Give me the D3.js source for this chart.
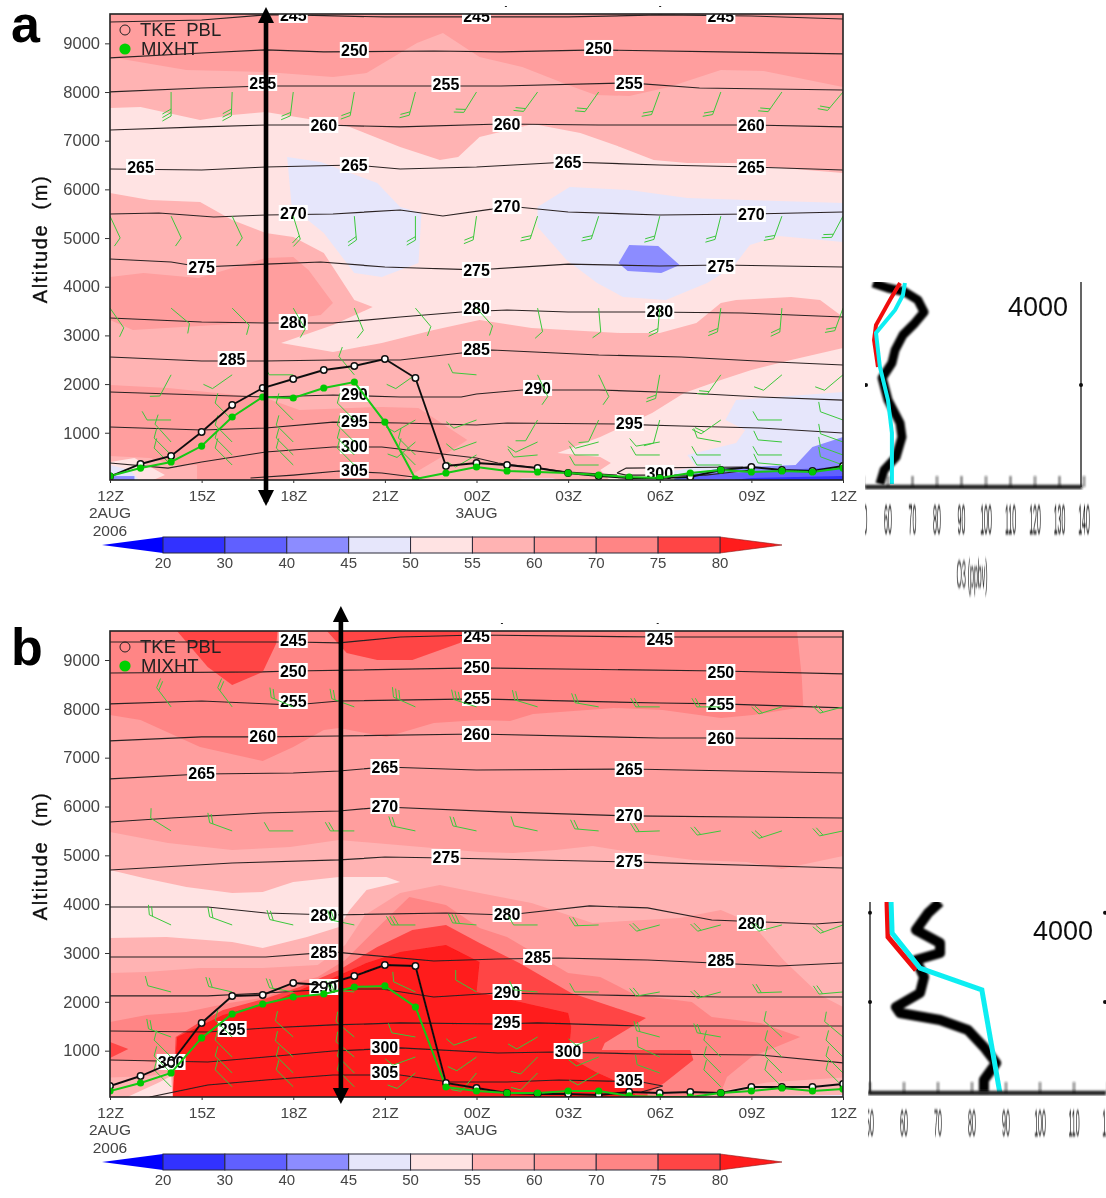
<!DOCTYPE html>
<html><head><meta charset="utf-8">
<script src="https://cdn.jsdelivr.net/npm/d3@7/dist/d3.min.js"></script>
<style>html,body{margin:0;background:#fff}svg{display:block}text{font-family:"Liberation Sans",Arial,sans-serif}</style>
</head><body><svg id="c" width="1106" height="1198"></svg>
<script>
// ---------- shared values ----------
const hours=d3.range(0,25);
const hourTicks=[0,3,6,9,12,15,18,21,24];
const hourLabels=["12Z","15Z","18Z","21Z","00Z","03Z","06Z","09Z","12Z"];
const altTicks=[1000,2000,3000,4000,5000,6000,7000,8000,9000];
const levelLabels=[20,30,40,45,50,55,60,70,75,80];
const levelColors=["#0000ff","#3030ff","#6060ff","#8c8cff","#e6e6fb","#ffe3e3","#ffb3b3","#ff9e9e","#ff8585","#ff4545","#ff1a1a"];
const barbHours=[0,2,4,6,8,10,12,14,16,18,20,22,24];
// colour index names
const C={b20:0,b30:1,b40:2,b45:3,b50:4,b55:5,b60:6,b70:7,b75:8,b80:9,b99:10};

// ---------- panel a ----------
const tkeA=[100,358,522,1015,1570,1919,2104,2289,2371,2515,2124,316,378,337,275,173,111,70,70,90,234,296,234,214,316];
const mixA=[111,275,399,727,1323,1734,1714,1919,2042,1220,50,173,296,214,193,173,131,90,70,173,234,193,214,193,275];
const bandsA=[
 [C.b70,[[0,9700],[24,9700],[24,8103],[21.4,8432],[20,8453],[18.3,8103],[17,7919],[15.9,7939],[15,8144],[13.5,8514],[12.1,8720],[10.9,9213],[10.05,9008],[8.4,8391],[7.3,8309],[5.1,8412],[2.5,8453],[0,8720]]],
 [C.b70,[[0,4200],[1.1,4282],[2.9,4179],[5.1,4590],[6,4610],[6.5,4343],[7.3,3665],[6.9,3419],[5.1,3275],[2.9,3193],[0.75,3110],[0,3316]]],
 [C.b70,[[0,1980],[1.9,1919],[5.1,1713],[6.2,1467],[7.9,1508],[8.9,1529],[10.1,1508],[11.7,850],[10.8,480],[9.5,0],[0,0]]],
 [C.b55,[[0,7672],[1,7692],[2.95,7425],[4,7528],[5.1,7590],[7.3,7364],[7.85,7282],[9.5,6871],[10.8,6604],[11.4,6665],[12.1,7076],[13.85,7343],[15.4,7158],[16.7,6871],[17.8,6604],[18.9,6542],[20.6,6542],[21.6,6460],[24,6336],[24,3378],[23.25,3727],[22.3,3789],[20.5,3727],[20,3665],[19.2,3254],[18,3049],[16.7,3049],[13.8,3152],[12.1,3316],[10.6,3110],[8.9,2843],[7.3,2659],[5.6,2843],[7.3,3213],[8.6,3583],[8,3727],[7,4693],[6,5021],[5.1,5104],[4,5371],[2.95,5741],[1.3,5782],[0,5925]]],
 [C.b50,[[5.8,6665],[6.9,6562],[7.6,6398],[8.75,6131],[9.5,5638],[10.2,5515],[10.1,4487],[8.9,4199],[8,4282],[7,5104],[5.95,5638]]],
 [C.b50,[[14,5638],[15.05,6049],[17,5987],[18.9,5823],[20.85,5782],[24,5720],[24,4919],[21.9,5042],[20.95,4857],[20.4,4405],[19.55,4076],[18.2,3727],[16.8,3789],[15.95,4076],[14.95,4549],[14,5227]]],
 [C.b45,[[17,4857],[17.95,4836],[18.65,4446],[18.05,4282],[16.95,4323],[16.65,4487]]],
 [C.b55,[[24,2741],[22.3,2494],[21,2289],[20,2083],[18.8,1816],[17.75,1405],[16.05,912],[14.65,583],[16.05,501],[16.4,378],[16.05,234],[16.4,0],[24,0]]],
 [C.b50,[[24,1837],[20.5,1672],[20.15,1261],[20.8,1056],[20.5,789],[18.9,542],[19.2,296],[17.7,131],[17,0],[24,0]]],
 [C.b45,[[24,912],[23,706],[22.45,336],[20,275],[18.9,131],[19,0],[24,0]]],
 [C.b40,[[18,0],[19,120],[21,200],[24,300],[24,0]]],
 [C.b30,[[20,0],[21,70],[24,110],[24,0]]],
 [C.b60,[[0,520],[1.3,480],[2.1,336],[2.85,336],[2.85,0],[0,0]]],
 [C.b55,[[0,400],[0.8,480],[1.8,130],[1.3,0],[0,0]]],
 [C.b50,[[0,336],[0.65,234],[1,0],[0,0]]],
 [C.b50,[[13,0],[13.5,60],[14.5,60],[15,0]]],
 [C.b45,[[0,110],[0.8,110],[0.8,0],[0,0]]]
];
const isoA=[
 [[0,9439],[3,9480],[5.1,9583],[6,9583],[9,9542],[12,9542],[15,9542],[18,9583],[21,9562],[24,9500]],
 [[0,8702],[3,8802],[5.1,8864],[7,8823],[10.6,8843],[12.8,8823],[16,8864],[20,8823],[24,8782]],
 [[0,8001],[3,8083],[5.1,8124],[8,8124],[12.8,8124],[17,8186],[19.3,8083],[24,8042]],
 [[0,7220],[3,7282],[5.1,7323],[7,7323],[9.5,7282],[12.8,7343],[16,7323],[21,7323],[24,7282]],
 [[0,6419],[3,6398],[5.1,6460],[8,6501],[9.5,6419],[12,6460],[15,6562],[18,6501],[21,6460],[24,6398]],
 [[0,5494],[1.6,5515],[3.4,5432],[5.1,5473],[7.3,5494],[9.5,5576],[10.9,5453],[12.5,5596],[13,5658],[15,5535],[18,5473],[21,5494],[24,5535]],
 [[0,4569],[2,4508],[3,4405],[5.1,4466],[6.9,4508],[9,4405],[12,4344],[15,4466],[18,4426],[20,4446],[24,4405]],
 [[0,3357],[3,3275],[5.1,3255],[7.3,3255],[9.5,3378],[11.5,3481],[13,3522],[15,3481],[17.7,3481],[20.7,3460],[24,3378]],
 [[0,2556],[3,2474],[5.1,2474],[7.3,2494],[9.5,2494],[11.5,2638],[12.5,2700],[16,2597],[18.7,2556],[21.8,2453],[24,2392]],
 [[0,1837],[3,1775],[5.1,1734],[7.3,1775],[9.5,1734],[11.5,1734],[12,1796],[13.5,1878],[16,1878],[18.9,1816],[21.3,1734],[24,1672]],
 [[0,1118],[3,1056],[5.1,1097],[7.3,1220],[9.5,1200],[12,1159],[13,1200],[16.6,1179],[18.7,1138],[21.3,1097],[24,995]],
 [[0,378],[1.9,275],[3,399],[5.1,604],[7.3,707],[8.9,707],[10.6,584],[12,481],[12.7,378],[14,275],[15,193],[16.6,131]],
 [[16.6,172],[16.9,275],[20.7,296],[21,234],[19.5,131],[16.9,131],[16.6,172]],
 [[4.6,70],[6,131],[7.5,214],[8.9,173],[10.2,70]]
];
const isoLabelsA=[[245,6,9583],[245,12,9562],[245,20,9562],[250,8,8864],[250,16,8905],[255,5,8186],[255,11,8165],[255,17,8186],[260,7,7323],[260,13,7343],[260,21,7323],[265,1,6460],[265,8,6501],[265,15,6562],[265,21,6460],[270,6,5515],[270,13,5658],[270,21,5494],[275,3,4405],[275,12,4344],[275,20,4426],[280,6,3275],[280,12,3563],[280,18,3501],[285,4,2515],[285,12,2720],[290,8,1796],[290,14,1919],[295,8,1241],[295,17,1200],[300,8,727],[300,18,173],[305,8,234]];
const barbRowsA=[
 [8000,[95,90,92,97,100,105,122,126,125,110,110,125,130],[3,3,3,2,2,2,2,2,2,2,2,2,2]],
 [5450,[65,65,65,73,85,90,98,108,108,104,104,110,118],[1,1,1,2,2,2,2,2,2,2,2,2,2]],
 [3560,[55,40,45,60,68,50,48,78,85,95,98,95,110],[1,1,1,1,1,1,1,1,1,2,2,2,2]],
 [2190,[null,118,145,180,230,145,185,65,65,100,125,140,140],[0,1,1,1,1,1,1,1,1,2,2,1,1]],
 [1262,[null,180,225,225,225,150,160,120,115,105,145,180,200],[0,1,1,1,1,1,1,1,1,1,2,1,1]],
 [810,[null,228,225,225,225,140,160,155,165,170,190,185,200],[0,1,1,1,1,1,1,1,1,1,1,1,1]],
 [543,[null,225,225,225,225,225,150,175,180,180,180,180,200],[0,1,1,1,1,1,1,1,1,1,1,1,1]],
 [337,[null,225,225,225,225,225,null,null,180,null,180,185,200],[0,1,1,1,1,1,0,0,1,0,1,1,1]]
];
const arrowHourA=5.108;

// ---------- panel b ----------
const tkeB=[276,481,747,1567,2120,2140,2386,2345,2529,2754,2734,338,235,133,113,113,92,154,133,154,133,256,256,256,317];
const mixB=[174,338,543,1260,1751,1956,2099,2161,2304,2325,1894,256,174,133,133,174,174,72,51,51,133,174,235,174,215];
const bandsB=[
 [C.b70,[[0,9700],[24,9700],[24,4987],[22,4721],[20.85,4864],[19.1,4905],[17.25,5048],[15.8,5192],[14.6,5110],[13.2,5048],[12.1,5069],[7.5,5314],[5.9,5171],[4,5110],[1.9,5253],[0,5479]]],
 [C.b75,[[0,7875],[1,7772],[2.95,7219],[5,6933],[6,7219],[7,7567],[7.5,7608],[9.05,7424],[10.6,7711],[12.1,7772],[13.1,7752],[13.85,7895],[16.5,8018],[18.1,7977],[20,7813],[21.05,7875],[22.7,8038],[22.65,8650],[22.5,9554],[22.5,9700],[0,9700]]],
 [C.b80,[[2.05,9700],[3.2,8857],[4,8488],[5,8755],[5.45,9349],[5.5,9700]]],
 [C.b80,[[6.95,9700],[7.75,9144],[8.75,9000],[9.9,9000],[11.45,9349],[11.9,9574],[11.9,9700]]],
 [C.b55,[[0,4700],[1.1,4537],[2.5,4352],[4,4229],[5,4250],[6,4455],[7.5,4557],[9.05,4557],[9.5,4455],[8.4,4291],[7.85,3881],[7.5,3533],[6.45,3328],[5,3103],[4,3226],[1.85,3328],[0,3307]]],
 [C.b70,[[0,2591],[1.2,2611],[2.95,2693],[5,2693],[6.8,2755],[7.7,3164],[8.35,3779],[9.5,4229],[10.8,4393],[12.1,4229],[13.8,4024],[15.8,3615],[18.65,3717],[20,3881],[21,3615],[22.05,2857],[23.25,2140],[24,1894],[24,0],[0,0]]],
 [C.b75,[[0,1588],[1.2,1731],[2.5,1792],[3.9,1976],[5.15,2099],[6,2386],[6.8,2509],[7.7,2857],[8.85,3574],[9.8,4147],[11,3984],[12.1,3512],[13,3328],[15,2591],[16.05,2509],[17.2,2140],[19.05,1997],[19.7,1690],[21.3,1567],[22.6,1280],[21,870],[20.2,461],[20,133],[20,0],[0,0]]],
 [C.b80,[[0,1178],[0.6,1034],[0,850]]],
 [C.b80,[[2.05,0],[2.15,1280],[2.95,1588],[3.7,1833],[5.15,2079],[6.2,2304],[7.5,2652],[8.75,3123],[9.9,3472],[11,3574],[12.1,3205],[13.4,2795],[15.1,2181],[17.55,1669],[16.2,1157],[16.1,1014],[19,1014],[19.1,809],[18.15,338],[17.6,133],[17.6,0]]],
 [C.b99,[[2.05,0],[2.2,1280],[3.7,1731],[5.45,2038],[6.45,2304],[7.3,2488],[8.4,2795],[9.5,3021],[11,3164],[12.1,2816],[12,2201],[15,1772],[15.1,1485],[15.05,1157],[15.2,809],[15.9,563],[16.85,297],[17.35,0]]],
 [C.b70,[[0,800],[1,800],[2.05,700],[2.05,0],[0,0]]],
 [C.b60,[[0,450],[1.3,480],[2.05,560],[2.05,0],[0,0]]],
 [C.b55,[[0.6,60],[1.6,350],[2,480],[2.05,0],[0.6,0]]],
 [C.b60,[[19,60],[21.5,350],[24,450],[24,0],[18.5,0]]],
 [C.b50,[[19,40],[20.5,60],[24,90],[24,0],[18.5,0]]],
 [C.b45,[[20,25],[24,25],[24,0],[19,0]]]
];
const isoB=[
 [[0,9369],[6,9369],[7.5,9349],[9.5,9471],[12,9512],[18,9471],[24,9471]],
 [[0,8734],[5,8755],[6,8775],[12,8837],[20,8775],[24,8714]],
 [[0,8100],[3,8161],[6,8079],[7.5,8161],[12,8202],[18,8120],[20,8100],[24,8018]],
 [[0,7342],[3,7424],[5,7424],[7.5,7444],[12,7485],[18,7403],[20,7403],[24,7383]],
 [[0,6564],[3,6666],[6,6686],[7.5,6727],[9,6809],[12,6747],[17,6768],[24,6686]],
 [[0,5683],[2,5765],[5,5867],[7.5,5908],[9,5990],[12.8,5888],[17,5806],[24,5765]],
 [[0,4700],[4,4843],[7.5,4905],[9,4966],[11,4945],[17,4864],[24,4741]],
 [[0,3942],[3.2,3942],[5.1,3819],[7.3,3778],[11,3819],[13,3778],[13.6,3819],[15.7,3963],[17.6,3922],[19.7,3676],[23.1,3594],[24,3635]],
 [[0,2918],[3.2,2918],[5.1,2918],[7.3,3021],[10.6,2836],[12.7,2877],[14.7,2898],[17.6,2857],[21.9,2734],[24,2795]],
 [[0,2120],[3.2,2120],[5.1,2181],[7.3,2263],[8.9,2263],[10.6,2099],[12.7,2181],[16,2140],[20,2099],[24,2099]],
 [[0,1403],[3.2,1382],[5.1,1464],[7.3,1526],[9.5,1567],[12.7,1546],[14,1567],[17.4,1505],[24,1505]],
 [[0,809],[3.2,768],[5.1,870],[7.3,993],[9.5,1055],[12.7,952],[14.5,973],[17.4,932],[21.3,911],[24,748]],
 [[1.3,51],[3.2,297],[5.1,399],[7.3,502],[9.5,502],[11.1,358],[13,358],[14.7,399],[17.4,358],[18.1,276],[17.4,154]]
];
const isoLabelsB=[[245,6,9410],[245,12,9492],[245,18,9431],[250,6,8775],[250,12,8857],[250,20,8755],[255,6,8161],[255,12,8222],[255,20,8100],[260,5,7444],[260,12,7485],[260,20,7403],[265,3,6686],[265,9,6809],[265,17,6768],[270,9,6011],[270,17,5826],[275,11,4966],[275,17,4884],[280,7,3778],[280,13,3799],[280,21,3615],[285,7,3021],[285,14,2918],[285,20,2857],[290,7,2304],[290,13,2201],[295,4,1444],[295,13,1587],[300,2,768],[300,9,1075],[300,15,993],[305,9,563],[305,17,399]];
const barbRowsB=[
 [8040,[null,233,233,203,200,204,198,197,190,180,180,163,165],[0,2,2,2,2,3,3,2,2,2,2,2,2]],
 [5500,[null,212,200,180,180,192,192,192,185,178,170,162,168],[0,1,2,1,2,2,2,1,2,2,2,2,2]],
 [3574,[null,205,200,193,192,180,185,180,178,165,165,165,160],[0,2,2,2,2,3,3,1,2,2,2,2,2]],
 [2202,[null,195,193,190,185,205,210,185,180,170,165,178,175],[0,1,2,2,2,1,1,1,1,2,2,2,2]],
 [1280,[null,200,225,222,220,190,160,150,160,195,190,222,220],[0,2,1,1,1,1,1,1,1,2,2,1,1]],
 [870,[null,225,225,222,220,160,145,135,158,205,225,225,225],[0,1,1,1,1,1,1,1,1,1,1,1,1]],
 [543,[null,225,225,225,225,140,130,135,150,200,225,225,225],[0,1,1,1,1,1,1,1,1,1,1,1,1]],
 [260,[null,225,225,225,225,null,null,null,null,null,225,225,225],[0,1,1,1,1,0,0,0,0,0,1,1,1]]
];
const arrowHourB=7.56;

// ---------- O3 profile insets ----------
const o3TicksA=[50,60,70,80,90,100,110,120,130,140];
const o3TicksB=[50,60,70,80,90,100,110,120];
const o3BlackA=[[53.9,4000],[60,3902],[66.9,3824],[72.2,3667],[74.7,3431],[71,3216],[66.1,2980],[62.9,2686],[61.6,2431],[57.6,2137],[60,1706],[64.9,1255],[65.7,980],[63.3,588],[58.4,333],[56.7,60]];
const o3RedA=[[64.9,4000],[60.8,3667],[55.1,3176],[54.3,2882],[55.9,2353]];
const o3CyanA=[[66.9,4000],[66.1,3765],[62.9,3471],[55.1,3020],[56.7,2353],[60,1706],[61.6,1059],[61.6,60]];
const o3BlackB=[[70.6,4198],[67.1,3956],[63.5,3582],[70.6,3297],[70.6,3077],[63.5,2923],[65.9,2549],[64.7,2198],[57.6,1890],[58.8,1758],[70.6,1604],[78.8,1385],[83.5,1011],[87.1,659],[83.5,286],[83.5,0]];
const o3RedB=[[55,4198],[55.3,3429],[63.5,2703]];
const o3CyanB=[[56.2,4198],[56.5,3516],[64.7,2747],[82.9,2264],[88.2,0]];

// ---------- drawing ----------
const svg=d3.select("#c");
const defs=svg.append("defs");
[["soft",0.35],["blur",0.8],["blurT",0.55]].forEach(([id,s])=>defs.append("filter").attr("id",id).attr("x","-20%").attr("y","-20%").attr("width","140%").attr("height","140%").append("feGaussianBlur").attr("stdDeviation",s));
const root=svg.append("g").attr("filter","url(#soft)");
const tc="#444";

function barb(g,px,py,ang,n){
  const a=ang*Math.PI/180,L=24,F=10,fa=a+Math.PI/3;
  const ex=px+L*Math.cos(a),ey=py+L*Math.sin(a);
  let d=`M${px},${py}L${ex},${ey}`;
  for(let i=0;i<n;i++){const sx=ex-i*3.5*Math.cos(a),sy=ey-i*3.5*Math.sin(a);
    d+=`M${sx},${sy}L${sx+F*Math.cos(fa)},${sy+F*Math.sin(fa)}`;}
  g.append("path").attr("d",d).attr("fill","none").attr("stroke","#3cc83c").attr("stroke-width",1);
}

function panel(o){
  const x=d3.scaleLinear().domain([0,24]).range([110,843]);
  const y=d3.scaleLinear().domain(o.altDomain).range([o.bottom,o.top]);
  const g=root.append("g");
  const clipId="clip"+o.id;
  defs.append("clipPath").attr("id",clipId).append("rect").attr("x",110).attr("y",o.top).attr("width",733).attr("height",o.bottom-o.top);
  const p=g.append("g").attr("clip-path",`url(#${clipId})`);
  p.append("rect").attr("x",110).attr("y",o.top).attr("width",733).attr("height",o.bottom-o.top).attr("fill",levelColors[C.b60]);
  const area=d3.line().x(d=>x(d[0])).y(d=>y(d[1]));
  p.selectAll("path.band").data(o.bands).join("path").attr("class","band")
    .attr("d",d=>area(d[1])+"Z").attr("fill",d=>levelColors[d[0]]);
  p.selectAll("path.iso").data(o.iso).join("path").attr("class","iso")
    .attr("d",d=>area(d)).attr("fill","none").attr("stroke","#2b2222").attr("stroke-width",1.2);
  const lab=p.selectAll("g.l").data(o.isoLabels).join("g").attr("class","l")
    .attr("transform",d=>`translate(${x(d[1])},${y(d[2])})`);
  lab.append("rect").attr("x",-14.5).attr("y",-8).attr("width",29).attr("height",16).attr("fill","#fff");
  lab.append("text").attr("text-anchor","middle").attr("y",5.8).attr("font-size",16).attr("font-weight",700).attr("fill","#000").text(d=>d[0]);
  const bg=p.append("g");
  o.barbs.forEach(([alt,angs,ns])=>angs.forEach((a,i)=>{if(a!==null)barb(bg,x(barbHours[i]),y(alt),a,ns[i]);}));
  const ln=d3.line().x((d,i)=>x(hours[i])).y(d=>y(d));
  p.append("path").attr("d",ln(o.tke)).attr("fill","none").attr("stroke","#111").attr("stroke-width",1.9);
  p.append("path").attr("d",ln(o.mix)).attr("fill","none").attr("stroke","#14c814").attr("stroke-width",2);
  p.selectAll("circle.t").data(o.tke).join("circle").attr("class","t").attr("cx",(d,i)=>x(hours[i])).attr("cy",d=>y(d)).attr("r",3.2).attr("fill","#fff").attr("stroke","#111").attr("stroke-width",1.5);
  p.selectAll("circle.m").data(o.mix).join("circle").attr("class","m").attr("cx",(d,i)=>x(hours[i])).attr("cy",d=>y(d)).attr("r",3.6).attr("fill","#06c806");
  g.append("rect").attr("x",110).attr("y",o.top).attr("width",733).attr("height",o.bottom-o.top).attr("fill","none").attr("stroke","#222").attr("stroke-width",1.6);
  // axes
  const ya=g.append("g").attr("transform","translate(110,0)").call(d3.axisLeft(y).tickValues(altTicks).tickSize(5).tickPadding(5).tickFormat(d3.format("d")));
  ya.select(".domain").remove();
  ya.selectAll("line").attr("stroke","#333");
  ya.selectAll("text").attr("font-size",16.5).attr("fill",tc).attr("font-family","Liberation Sans");
  const xa=g.append("g").attr("transform",`translate(0,${o.bottom})`).call(d3.axisBottom(x).tickValues(hourTicks).tickSize(3).tickPadding(7).tickFormat((d,i)=>hourLabels[i]));
  xa.select(".domain").remove();
  xa.selectAll("line").attr("stroke","#333");
  xa.selectAll("text").attr("font-size",15.5).attr("fill",tc).attr("font-family","Liberation Sans");
  const dl=(t,h,dy)=>g.append("text").attr("x",x(h)).attr("y",o.bottom+dy).attr("text-anchor","middle").attr("font-size",15.5).attr("fill",tc).text(t);
  dl("2AUG",0,38);dl("2006",0,56);dl("3AUG",12,38);
  // title
  g.append("text").attr("transform",`translate(47,${o.top+225}) rotate(-90)`).attr("text-anchor","middle").attr("font-size",20).attr("letter-spacing",1.6).attr("fill","#111").attr("stroke","#111").attr("stroke-width",0.35).style("white-space","pre").text("Altitude  (m)");
  // legend
  g.append("circle").attr("cx",125).attr("cy",o.top+16).attr("r",5).attr("fill","none").attr("stroke","#222").attr("stroke-width",1);
  g.append("text").attr("x",140).attr("y",o.top+22).attr("font-size",18.5).attr("fill","#222").style("white-space","pre").text("TKE  PBL");
  g.append("circle").attr("cx",125).attr("cy",o.top+35).attr("r",5.6).attr("fill","#00d000");
  g.append("text").attr("x",141).attr("y",o.top+41).attr("font-size",18.5).attr("fill","#222").text("MIXHT");
  // top ticks
  o.dots.forEach(h=>g.append("rect").attr("x",x(h)).attr("y",o.top-8).attr("width",2).attr("height",1).attr("fill","#222"));
  // panel letter
  g.append("text").attr("x",11).attr("y",o.letterY).attr("font-size",52).attr("font-weight",700).attr("fill","#000").text(o.id);
  // arrow
  const ax=x(o.arrowHour);
  g.append("line").attr("x1",ax).attr("x2",ax).attr("y1",o.arrowTop+6).attr("y2",o.arrowBottom-4).attr("stroke","#000").attr("stroke-width",4.6);
  g.append("path").attr("d",`M${ax},${o.arrowTop}l8,16h-16Z`).attr("fill","#000");
  g.append("path").attr("d",`M${ax},${o.arrowBottom}l8,-16h-16Z`).attr("fill","#000");
  // colour bar
  const cb=d3.scalePoint().domain(levelLabels).range([163,720]);
  const b0=o.bottom+57,b1=o.bottom+73,bm=(b0+b1)/2;
  g.append("path").attr("d",`M102,${bm}L${cb(20)},${b0}V${b1}Z`).attr("fill",levelColors[0]);
  g.append("path").attr("d",`M782,${bm}L${cb(80)},${b0}V${b1}Z`).attr("fill",levelColors[10]).attr("stroke","#8a2020").attr("stroke-width",0.6);
  levelLabels.slice(0,-1).forEach((l,i)=>{
    g.append("rect").attr("x",cb(l)).attr("y",b0).attr("width",cb(levelLabels[i+1])-cb(l)).attr("height",b1-b0)
      .attr("fill",levelColors[i+1]).attr("stroke","#2a2a3a").attr("stroke-width",1);
  });
  levelLabels.forEach(l=>g.append("text").attr("x",cb(l)).attr("y",b1+15).attr("text-anchor","middle").attr("font-size",15).attr("fill",tc).text(l));
}

panel({id:"a",top:14,bottom:480,altDomain:[29,9603],bands:bandsA,iso:isoA,isoLabels:isoLabelsA,barbs:barbRowsA,tke:tkeA,mix:mixA,arrowHour:arrowHourA,arrowTop:7,arrowBottom:506,dots:[12.93,17.98],letterY:42});
panel({id:"b",top:631,bottom:1097,altDomain:[51,9594],bands:bandsB,iso:isoB,isoLabels:isoLabelsB,barbs:barbRowsB,tke:tkeB,mix:mixB,arrowHour:arrowHourB,arrowTop:606,arrowBottom:1104,dots:[12.8,17.9],letterY:665});

function inset(o){
  const x=d3.scaleLinear().domain(o.xDomain).range(o.xRange);
  const y=d3.scaleLinear().domain([0,4000]).range(o.yRange);
  const id="ic"+o.id;
  defs.append("clipPath").attr("id",id).append("rect").attr("x",o.clipX).attr("y",o.clipTop).attr("width",1106-o.clipX).attr("height",o.clipBottom-o.clipTop);
  const g=root.append("g").attr("clip-path",`url(#${id})`);
  const ln=d3.line().x(d=>x(d[0])).y(d=>y(d[1]));
  g.append("path").attr("d",ln(o.black)).attr("fill","none").attr("stroke","#000").attr("stroke-width",o.blackW).attr("stroke-linejoin","round").attr("filter","url(#blur)");
  g.append("path").attr("d",ln(o.red)).attr("fill","none").attr("stroke","#f01010").attr("stroke-width",o.lineW).attr("filter","url(#blurT)");
  g.append("path").attr("d",ln(o.cyan)).attr("fill","none").attr("stroke","#10eef2").attr("stroke-width",o.lineW).attr("filter","url(#blurT)");
  // axes
  const base=y(0);
  const ax=g.append("g").attr("filter","url(#blur)");
  ax.append("line").attr("x1",o.clipX).attr("x2",o.axisRight).attr("y1",base).attr("y2",base).attr("stroke","#222").attr("stroke-width",4.5);
  ax.selectAll("line.t").data(o.ticks).join("line").attr("class","t").attr("x1",d=>x(d)).attr("x2",d=>x(d)).attr("y1",base).attr("y2",base-11).attr("stroke","#111").attr("stroke-width",1.2);
  o.vLines.forEach(v=>g.append("line").attr("x1",v).attr("x2",v).attr("y1",o.clipTop).attr("y2",base).attr("stroke","#222").attr("stroke-width",1.4));
  o.markers.forEach(([mx,alt])=>g.append("circle").attr("cx",mx).attr("cy",y(alt)).attr("r",2).attr("fill","#111"));
  g.selectAll("text.t").data(o.ticks).join("text").attr("class","t")
    .attr("transform",d=>`translate(${x(d)},${o.labelY}) scale(0.5,${o.labelScale})`)
    .attr("text-anchor","middle").attr("font-size",14).attr("fill","#111").attr("filter","url(#blurT)").text(d=>d);
  if(o.title) root.append("text").attr("transform",`translate(972,587) scale(0.5,2.8)`).attr("text-anchor","middle").attr("font-size",14).attr("fill","#222").attr("filter","url(#blurT)").text(o.title);
  root.append("text").attr("x",o.labelX).attr("y",o.labelAltY).attr("text-anchor","middle").attr("font-size",27).attr("font-family","Noto Sans").attr("fill","#111").text("4000");
}
inset({id:"a",xDomain:[60,140],xRange:[888,1084],yRange:[487,283],clipX:865,clipTop:282,clipBottom:540,axisRight:1082,black:o3BlackA,red:o3RedA,cyan:o3CyanA,blackW:9,lineW:4,ticks:o3TicksA,vLines:[1081],markers:[[866,2000],[1081,2000]],labelY:534,labelScale:3,title:"O3 (ppbv)",labelX:1038,labelAltY:316});
inset({id:"b",xDomain:[50,120],xRange:[870,1108],yRange:[1093,911],clipX:868,clipTop:902,clipBottom:1140,axisRight:1106,black:o3BlackB,red:o3RedB,cyan:o3CyanB,blackW:10,lineW:5,ticks:o3TicksB,vLines:[870],markers:[[870,2000],[870,3960],[1105,2000],[1105,3960]],labelY:1136,labelScale:2.7,title:null,labelX:1063,labelAltY:940});
</script></body></html>
